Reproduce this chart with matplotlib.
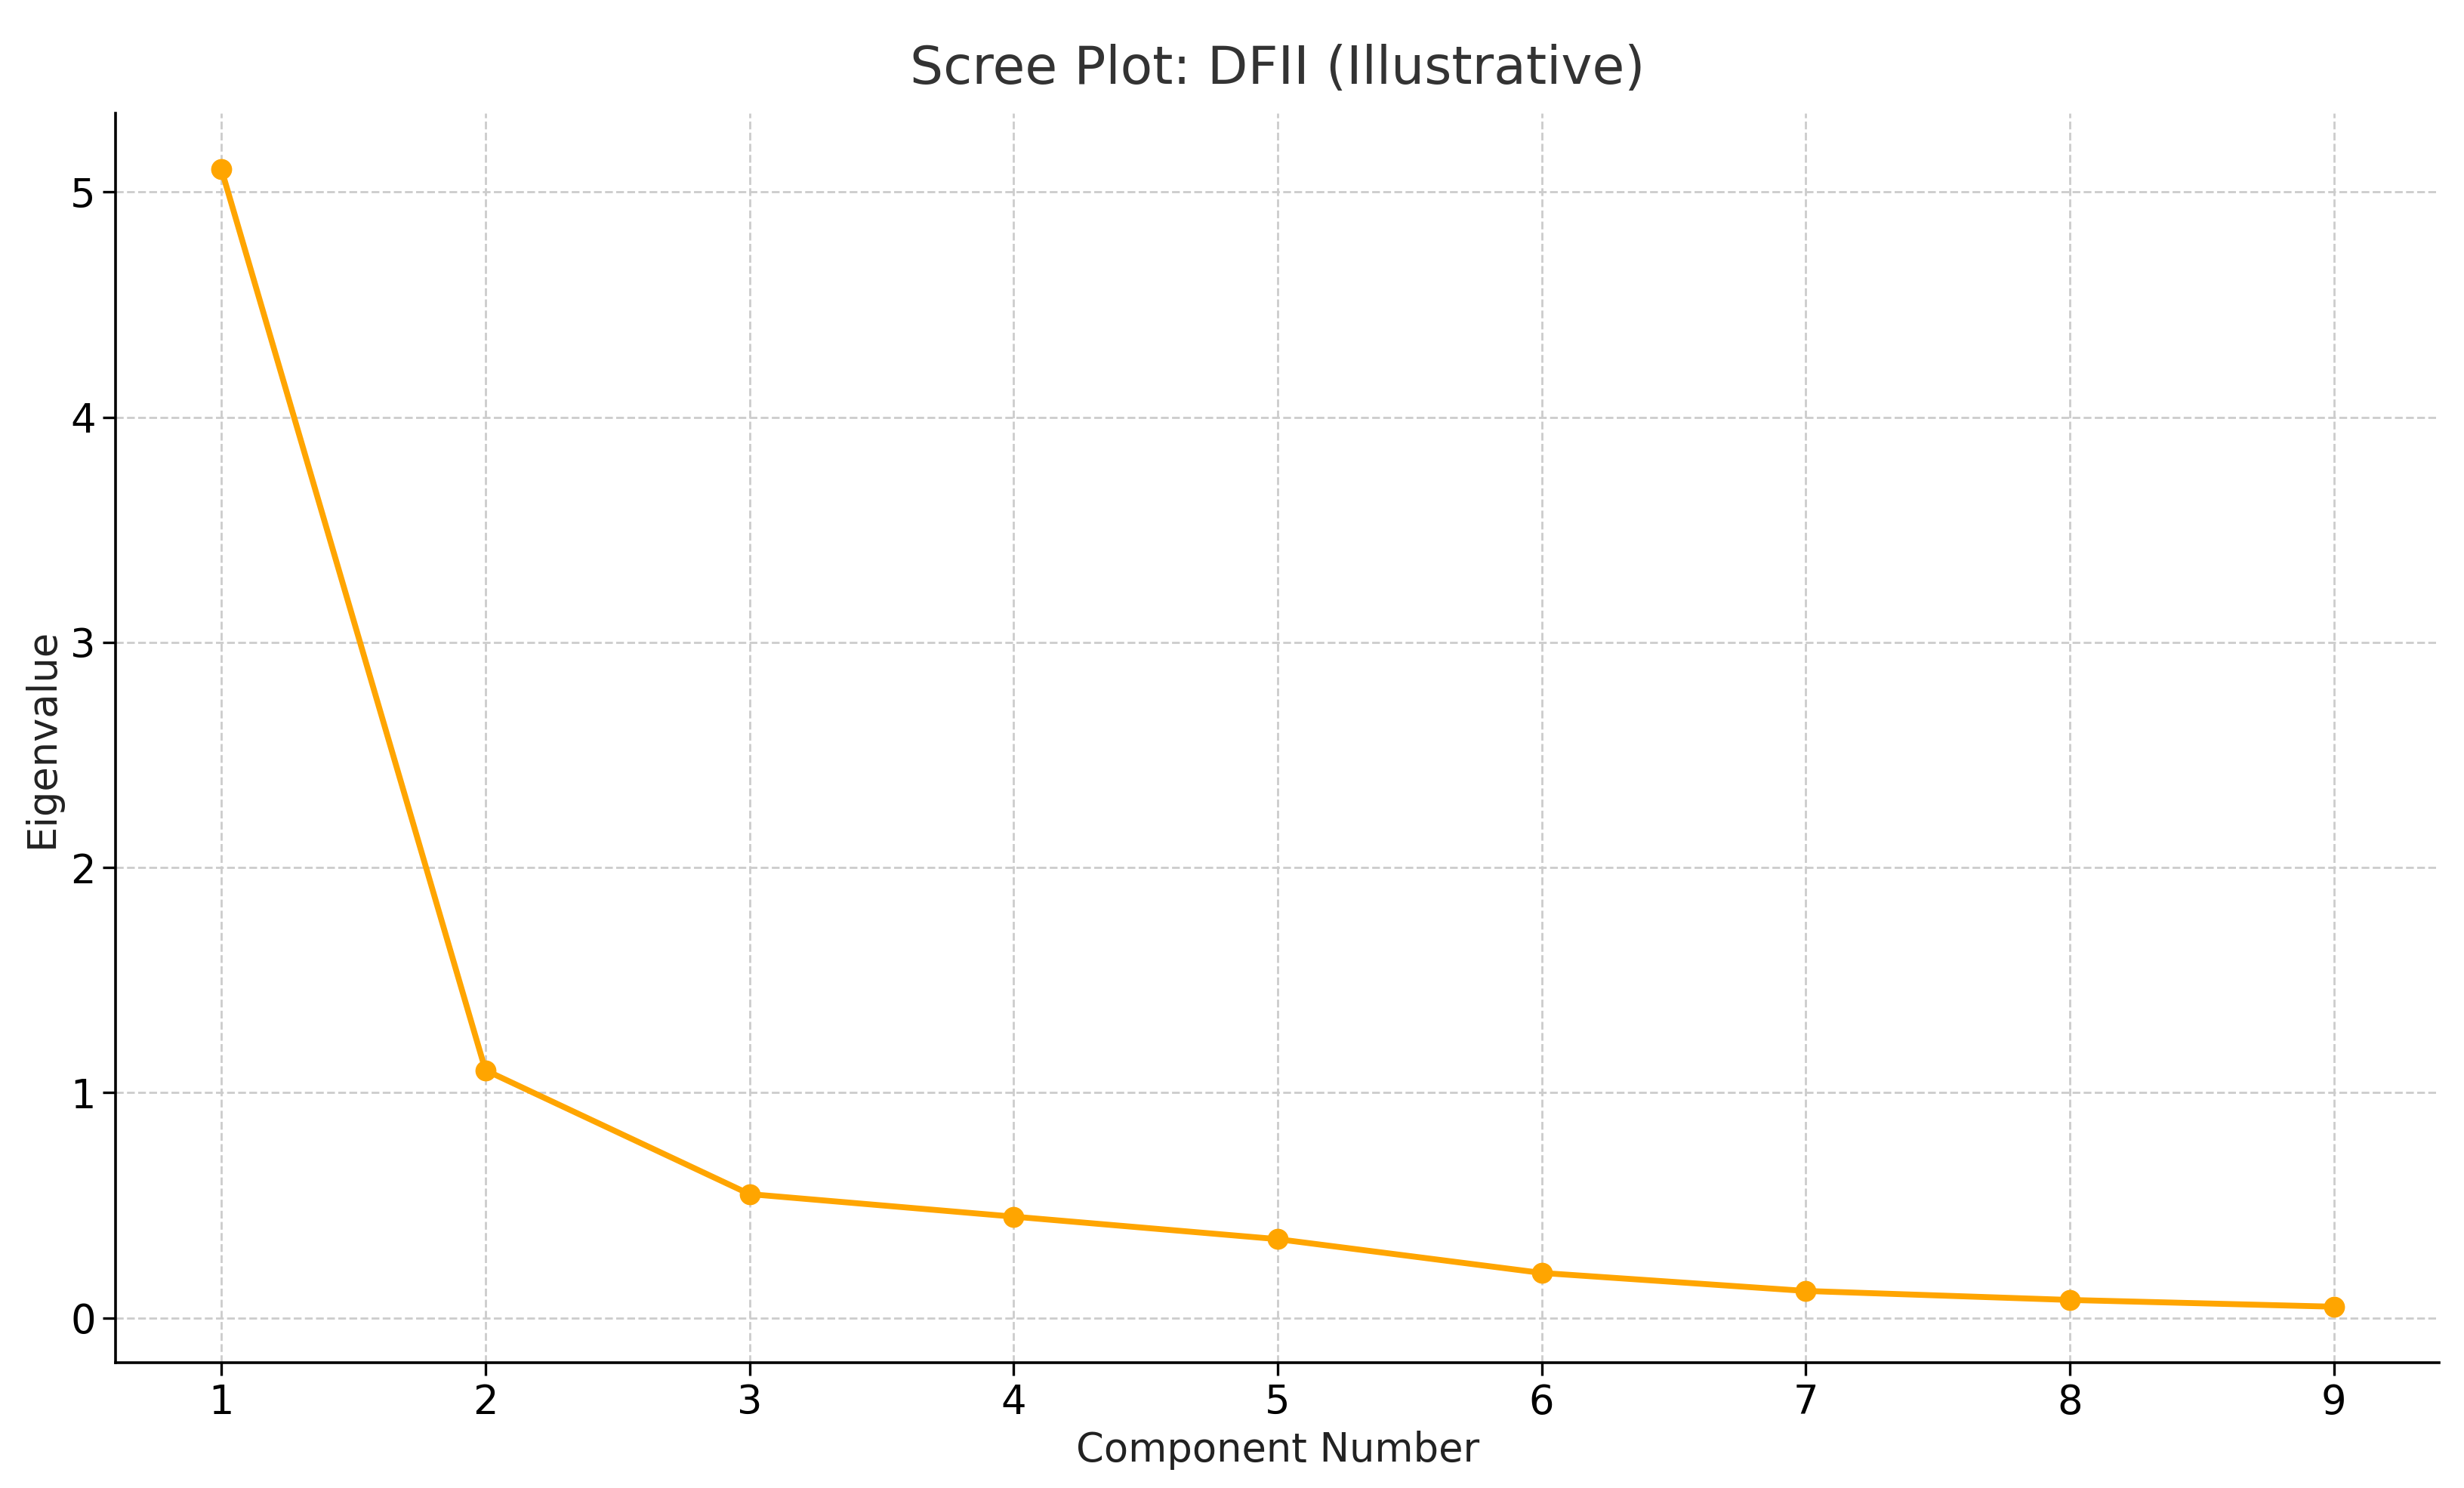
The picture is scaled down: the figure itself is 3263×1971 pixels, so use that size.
import matplotlib.pyplot as plt

components = [1, 2, 3, 4, 5, 6, 7, 8, 9]
eigenvalues = [5.1, 1.1, 0.55, 0.45, 0.35, 0.2, 0.12, 0.08, 0.05]

fig = plt.figure(figsize=(16.315, 9.855), dpi=200)
ax = fig.add_axes([0.047, 0.084, 0.943, 0.84])

ax.plot(components, eigenvalues, color='#FFA500', marker='o', markersize=9, linewidth=2.8)

ax.set_title('Scree Plot: DFII (Illustrative)', fontsize=25, color='#333333', pad=14)
ax.set_xlabel('Component Number', fontsize=19, color='#222222')
ax.set_ylabel('Eigenvalue', fontsize=19, color='#222222')
ax.set_xticks(components)
ax.set_yticks([0, 1, 2, 3, 4, 5])
ax.tick_params(labelsize=19, length=6, width=1.2)
ax.set_xlim(0.6, 9.4)
ax.set_ylim(-0.2, 5.35)
ax.grid(True, linestyle='--', color='#cccccc', linewidth=1)
ax.spines['top'].set_visible(False)
ax.spines['right'].set_visible(False)
ax.spines['left'].set_linewidth(1.3)
ax.spines['bottom'].set_linewidth(1.3)

fig.savefig('out.png', dpi=200)
